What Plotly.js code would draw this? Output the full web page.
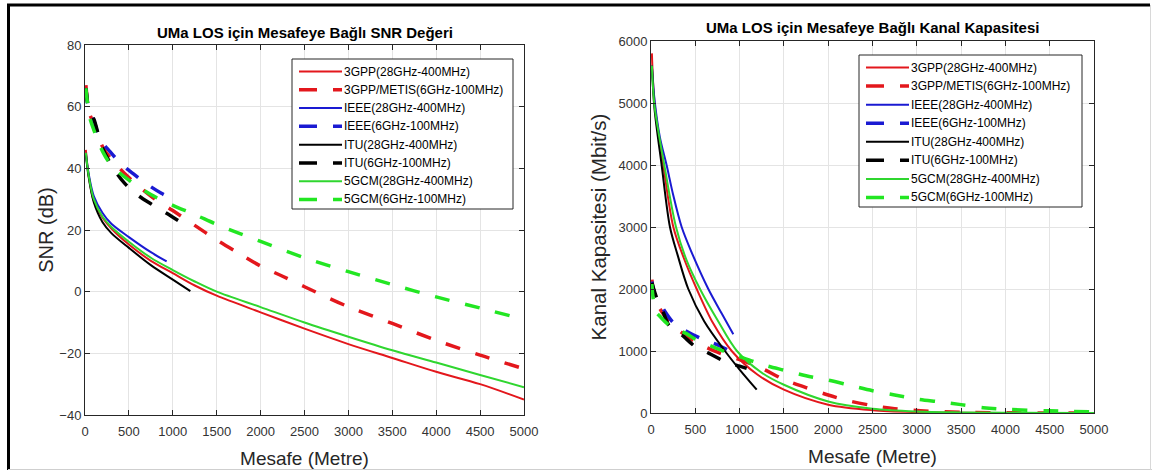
<!DOCTYPE html>
<html>
<head>
<meta charset="utf-8">
<script src="https://cdn.plot.ly/plotly-3.0.1.min.js"></script>
<style>html,body{margin:0;padding:0;background:#fff;}#chart{width:1152px;height:472px;}</style>
</head>
<body>
<div id="chart"></div>
<script>
// ---------------- DATA ----------------
const seriesNames = [
  "3GPP(28GHz-400MHz)", "3GPP/METIS(6GHz-100MHz)",
  "IEEE(28GHz-400MHz)", "IEEE(6GHz-100MHz)",
  "ITU(28GHz-400MHz)", "ITU(6GHz-100MHz)",
  "5GCM(28GHz-400MHz)", "5GCM(6GHz-100MHz)"
];

// SNR (dB) vs distance (m)
const snrDist_3gpp28 = [10, 40, 100, 200, 300, 500, 750, 1000, 1250, 1500, 2000, 2500, 3000, 3500, 4000, 4500, 5000];
const snr_3gpp28     = [46, 38, 29.5, 24, 20.5, 15.3, 10, 6, 2, -1.3, -6.7, -12, -17, -21.5, -26, -30, -35];
const snrDist_3gpp6  = [10, 50, 100, 200, 300, 500, 750, 1000, 1250, 1500, 1750, 2000, 2250, 2500, 3000, 3500, 4000, 4500, 5000];
const snr_3gpp6      = [67, 58, 54.5, 47, 43, 37, 31, 26.3, 21.5, 16.8, 12.5, 8.3, 5, 1.6, -4.9, -10.3, -15.8, -20.6, -25];
const snrDist_ieee28 = [10, 40, 100, 200, 300, 500, 750, 930];
const snr_ieee28     = [45, 38.5, 31, 25.5, 22, 17.7, 12.8, 9.8];
const snrDist_ieee6  = [10, 50, 100, 170, 285, 420, 570, 720, 870, 930];
const snr_ieee6      = [66, 58, 55.5, 49.5, 45.4, 41.2, 37.8, 34.6, 31.9, 31];
const snrDist_itu28  = [10, 40, 100, 200, 300, 500, 750, 1000, 1200];
const snr_itu28      = [44.5, 37.5, 29, 22.5, 19, 14.2, 8.6, 3.9, 0.2];
const snrDist_itu6   = [10, 50, 100, 200, 350, 450, 600, 750, 930, 1080];
const snr_itu6       = [66, 58.5, 56, 46.5, 38.9, 35.2, 31.3, 28.5, 25.4, 22.7];
const snrDist_5gcm28 = [10, 40, 100, 200, 300, 500, 750, 1000, 1250, 1500, 2000, 2500, 3000, 3500, 4000, 4500, 5000];
const snr_5gcm28     = [45, 38, 30, 24.3, 21, 16.2, 11, 7, 3.3, 0, -5, -10, -14.6, -19, -23, -27, -31];
const snrDist_5gcm6  = [10, 50, 100, 200, 300, 500, 750, 1000, 1250, 1500, 1750, 2000, 2500, 3000, 3500, 4000, 4500, 5000];
const snr_5gcm6      = [66, 57, 52.5, 45.5, 41, 36.2, 31.5, 28, 25, 21.8, 19, 16.3, 11, 6.5, 2.3, -1.7, -5.3, -9];

// Channel capacity (Mbit/s) vs distance (m)
const capDist_3gpp28 = [10, 40, 139, 252, 370, 516, 700, 911, 1200, 1500, 2000, 2500, 3000, 3500, 4000, 5000];
const cap_3gpp28     = [5800, 5000, 4000, 3000, 2500, 2000, 1450, 1000, 620, 376, 134, 45, 15, 5, 2, 0];
const capDist_3gpp6  = [10, 50, 100, 200, 300, 500, 750, 1000, 1250, 1500, 1750, 2000, 2250, 2500, 2750, 3000, 3500, 4000, 5000];
const cap_3gpp6      = [2150, 1800, 1680, 1480, 1350, 1150, 980, 860, 720, 540, 410, 290, 190, 120, 70, 40, 12, 3, 1];
const capDist_ieee28 = [10, 40, 100, 176, 250, 346, 450, 647, 800, 929];
const cap_ieee28     = [5600, 5050, 4450, 4000, 3520, 3000, 2620, 2000, 1600, 1270];
const capDist_ieee6  = [10, 50, 100, 250, 400, 600, 750, 930];
const cap_ieee6      = [2120, 1850, 1760, 1460, 1320, 1180, 1100, 970];
const capDist_itu28  = [10, 40, 120, 214, 300, 421, 600, 835, 1000, 1193];
const cap_itu28      = [5600, 4900, 4000, 3000, 2550, 2000, 1480, 1000, 700, 376];
const capDist_itu6   = [10, 64, 139, 200, 308, 350, 500, 650, 835, 1000, 1080];
const cap_itu6       = [2100, 1855, 1620, 1420, 1290, 1255, 1070, 965, 830, 755, 720];
const capDist_5gcm28 = [10, 40, 150, 282, 400, 553, 750, 970, 1250, 1500, 2000, 2500, 3000, 3500, 4000, 5000];
const cap_5gcm28     = [5600, 4950, 4000, 3000, 2470, 2000, 1500, 1000, 650, 456, 187, 70, 25, 10, 4, 1];
const capDist_5gcm6  = [10, 50, 100, 200, 300, 400, 500, 750, 900, 1000, 1250, 1500, 1750, 2000, 2250, 2500, 2750, 3000, 3250, 3500, 3750, 4000, 4500, 5000];
const cap_5gcm6      = [2080, 1650, 1560, 1420, 1340, 1280, 1190, 1040, 950, 910, 785, 690, 600, 530, 445, 360, 290, 225, 180, 135, 85, 60, 35, 20];

const xTicks = [0, 500, 1000, 1500, 2000, 2500, 3000, 3500, 4000, 4500, 5000];
const snrTicks = [-40, -20, 0, 20, 40, 60, 80];
const capTicks = [0, 1000, 2000, 3000, 4000, 5000, 6000];

const leftTitle = "UMa LOS için Mesafeye Bağlı SNR Değeri";
const rightTitle = "UMa LOS için Mesafeye Bağlı Kanal Kapasitesi";
const xTitle = "Mesafe (Metre)";
const yTitleLeft = "SNR (dB)";
const yTitleRight = "Kanal Kapasitesi (Mbit/s)";

// ---------------- STYLE ----------------
const W = 1152, H = 472;
const FONT = 'Arial, "Liberation Sans", Helvetica, sans-serif';
const colors = ["#e3171c", "#e3171c", "#1a1ad2", "#1a1ad2", "#000000", "#000000", "#2fd62f", "#22e622"];
const dashed = [false, true, false, true, false, true, false, true];

const snrX = [snrDist_3gpp28, snrDist_3gpp6, snrDist_ieee28, snrDist_ieee6, snrDist_itu28, snrDist_itu6, snrDist_5gcm28, snrDist_5gcm6];
const snrY = [snr_3gpp28, snr_3gpp6, snr_ieee28, snr_ieee6, snr_itu28, snr_itu6, snr_5gcm28, snr_5gcm6];
const capX = [capDist_3gpp28, capDist_3gpp6, capDist_ieee28, capDist_ieee6, capDist_itu28, capDist_itu6, capDist_5gcm28, capDist_5gcm6];
const capY = [cap_3gpp28, cap_3gpp6, cap_ieee28, cap_ieee6, cap_itu28, cap_itu6, cap_5gcm28, cap_5gcm6];

function lineStyle(i) {
  return dashed[i]
    ? {color: colors[i], width: 3.5, dash: "15px,16px", shape: "spline", smoothing: 0.9}
    : {color: colors[i], width: 2, shape: "spline", smoothing: 0.9};
}

const traces = [];
for (let i = 0; i < seriesNames.length; i++) {
  traces.push({x: snrX[i], y: snrY[i], type: "scatter", mode: "lines", name: seriesNames[i],
               line: lineStyle(i), xaxis: "x", yaxis: "y", showlegend: false, hoverinfo: "skip"});
}
for (let i = 0; i < seriesNames.length; i++) {
  traces.push({x: capX[i], y: capY[i], type: "scatter", mode: "lines", name: seriesNames[i],
               line: lineStyle(i), xaxis: "x2", yaxis: "y2", showlegend: false, hoverinfo: "skip"});
}

const axisCommon = {
  showline: true, linecolor: "#262626", linewidth: 1, mirror: "ticks",
  ticks: "inside", ticklen: 5, tickcolor: "#262626", tickwidth: 1,
  showgrid: true, gridcolor: "#e4e4e4", gridwidth: 1, zeroline: false,
  tickfont: {family: FONT, size: 13, color: "#333333"}, fixedrange: true
};
const axTitleFont = {family: FONT, size: 19, color: "#262626"};

const shapes = [
  // outer frame of the figure image
  {type: "line", xref: "paper", yref: "paper", x0: 7 / W, x1: 1 - 2 / W, y0: 1 - 5 / H, y1: 1 - 5 / H, line: {color: "#000000", width: 3}},
  {type: "line", xref: "paper", yref: "paper", x0: 8.5 / W, x1: 8.5 / W, y0: 1 - 4 / H, y1: 1 - 470 / H, line: {color: "#000000", width: 3}},
  {type: "line", xref: "paper", yref: "paper", x0: 8 / W, x1: 1, y0: 1 - 469.5 / H, y1: 1 - 469.5 / H, line: {color: "#cfcfcf", width: 1}},
  {type: "line", xref: "paper", yref: "paper", x0: 1 - 1.5 / W, x1: 1 - 1.5 / W, y0: 1 - 5 / H, y1: 1 - 470 / H, line: {color: "#d8d8d8", width: 1}}
];
const annotations = [
  {text: leftTitle, xref: "paper", yref: "paper", x: 304.5 / W, y: 1 - 32 / H, xanchor: "center", yanchor: "middle",
   showarrow: false, font: {family: FONT, size: 15, color: "#000000", weight: "bold"}},
  {text: rightTitle, xref: "paper", yref: "paper", x: 872.5 / W, y: 1 - 28 / H, xanchor: "center", yanchor: "middle",
   showarrow: false, font: {family: FONT, size: 15, color: "#000000", weight: "bold"}}
];

// Legend boxes drawn in MATLAB style (line sample followed directly by the label)
function addLegend(left, top, right, bottom) {
  shapes.push({type: "rect", xref: "paper", yref: "paper", x0: left / W, x1: right / W, y0: 1 - top / H, y1: 1 - bottom / H,
               line: {color: "#262626", width: 1}, fillcolor: "#ffffff", layer: "above"});
  const rowH = (bottom - top - 22) / (seriesNames.length - 1);
  for (let i = 0; i < seriesNames.length; i++) {
    const yy = 1 - (top + 12.5 + i * rowH) / H;
    shapes.push({type: "line", xref: "paper", yref: "paper", x0: (left + 7) / W, x1: (left + 50) / W, y0: yy, y1: yy, layer: "above",
                 line: dashed[i] ? {color: colors[i], width: 3.5, dash: "18px,16px"} : {color: colors[i], width: 2}});
    annotations.push({text: seriesNames[i], xref: "paper", yref: "paper", x: (left + 51) / W, y: yy, xanchor: "left", yanchor: "middle",
                      showarrow: false, font: {family: FONT, size: 12, color: "#000000"}, borderpad: 0});
  }
}
addLegend(292, 59, 513, 209);
addLegend(859, 55, 1082, 207);

const layout = {
  width: W, height: H, margin: {l: 0, r: 0, t: 0, b: 0},
  paper_bgcolor: "#ffffff", plot_bgcolor: "#ffffff", font: {family: FONT},
  showlegend: false,
  xaxis: Object.assign({}, axisCommon, {domain: [85 / W, 524 / W], anchor: "y", range: [0, 5000], ticklabelstandoff: 4,
          tickvals: xTicks, title: {text: xTitle, font: axTitleFont, standoff: 14}}),
  yaxis: Object.assign({}, axisCommon, {domain: [1 - 415 / H, 1 - 45 / H], anchor: "x", range: [-40, 80],
          tickvals: snrTicks, title: {text: yTitleLeft, font: Object.assign({}, axTitleFont, {size: 20}), standoff: 0}}),
  xaxis2: Object.assign({}, axisCommon, {domain: [651 / W, 1094 / W], anchor: "y2", range: [0, 5000], ticklabelstandoff: 4,
          tickvals: xTicks, title: {text: xTitle, font: axTitleFont, standoff: 14}}),
  yaxis2: Object.assign({}, axisCommon, {domain: [1 - 413 / H, 1 - 41 / H], anchor: "x2", range: [0, 6000],
          tickvals: capTicks, title: {text: yTitleRight, font: Object.assign({}, axTitleFont, {size: 20.5}), standoff: 6}}),
  annotations: annotations,
  shapes: shapes
};

Plotly.newPlot("chart", traces, layout, {staticPlot: true, displayModeBar: false});
</script>
</body>
</html>
